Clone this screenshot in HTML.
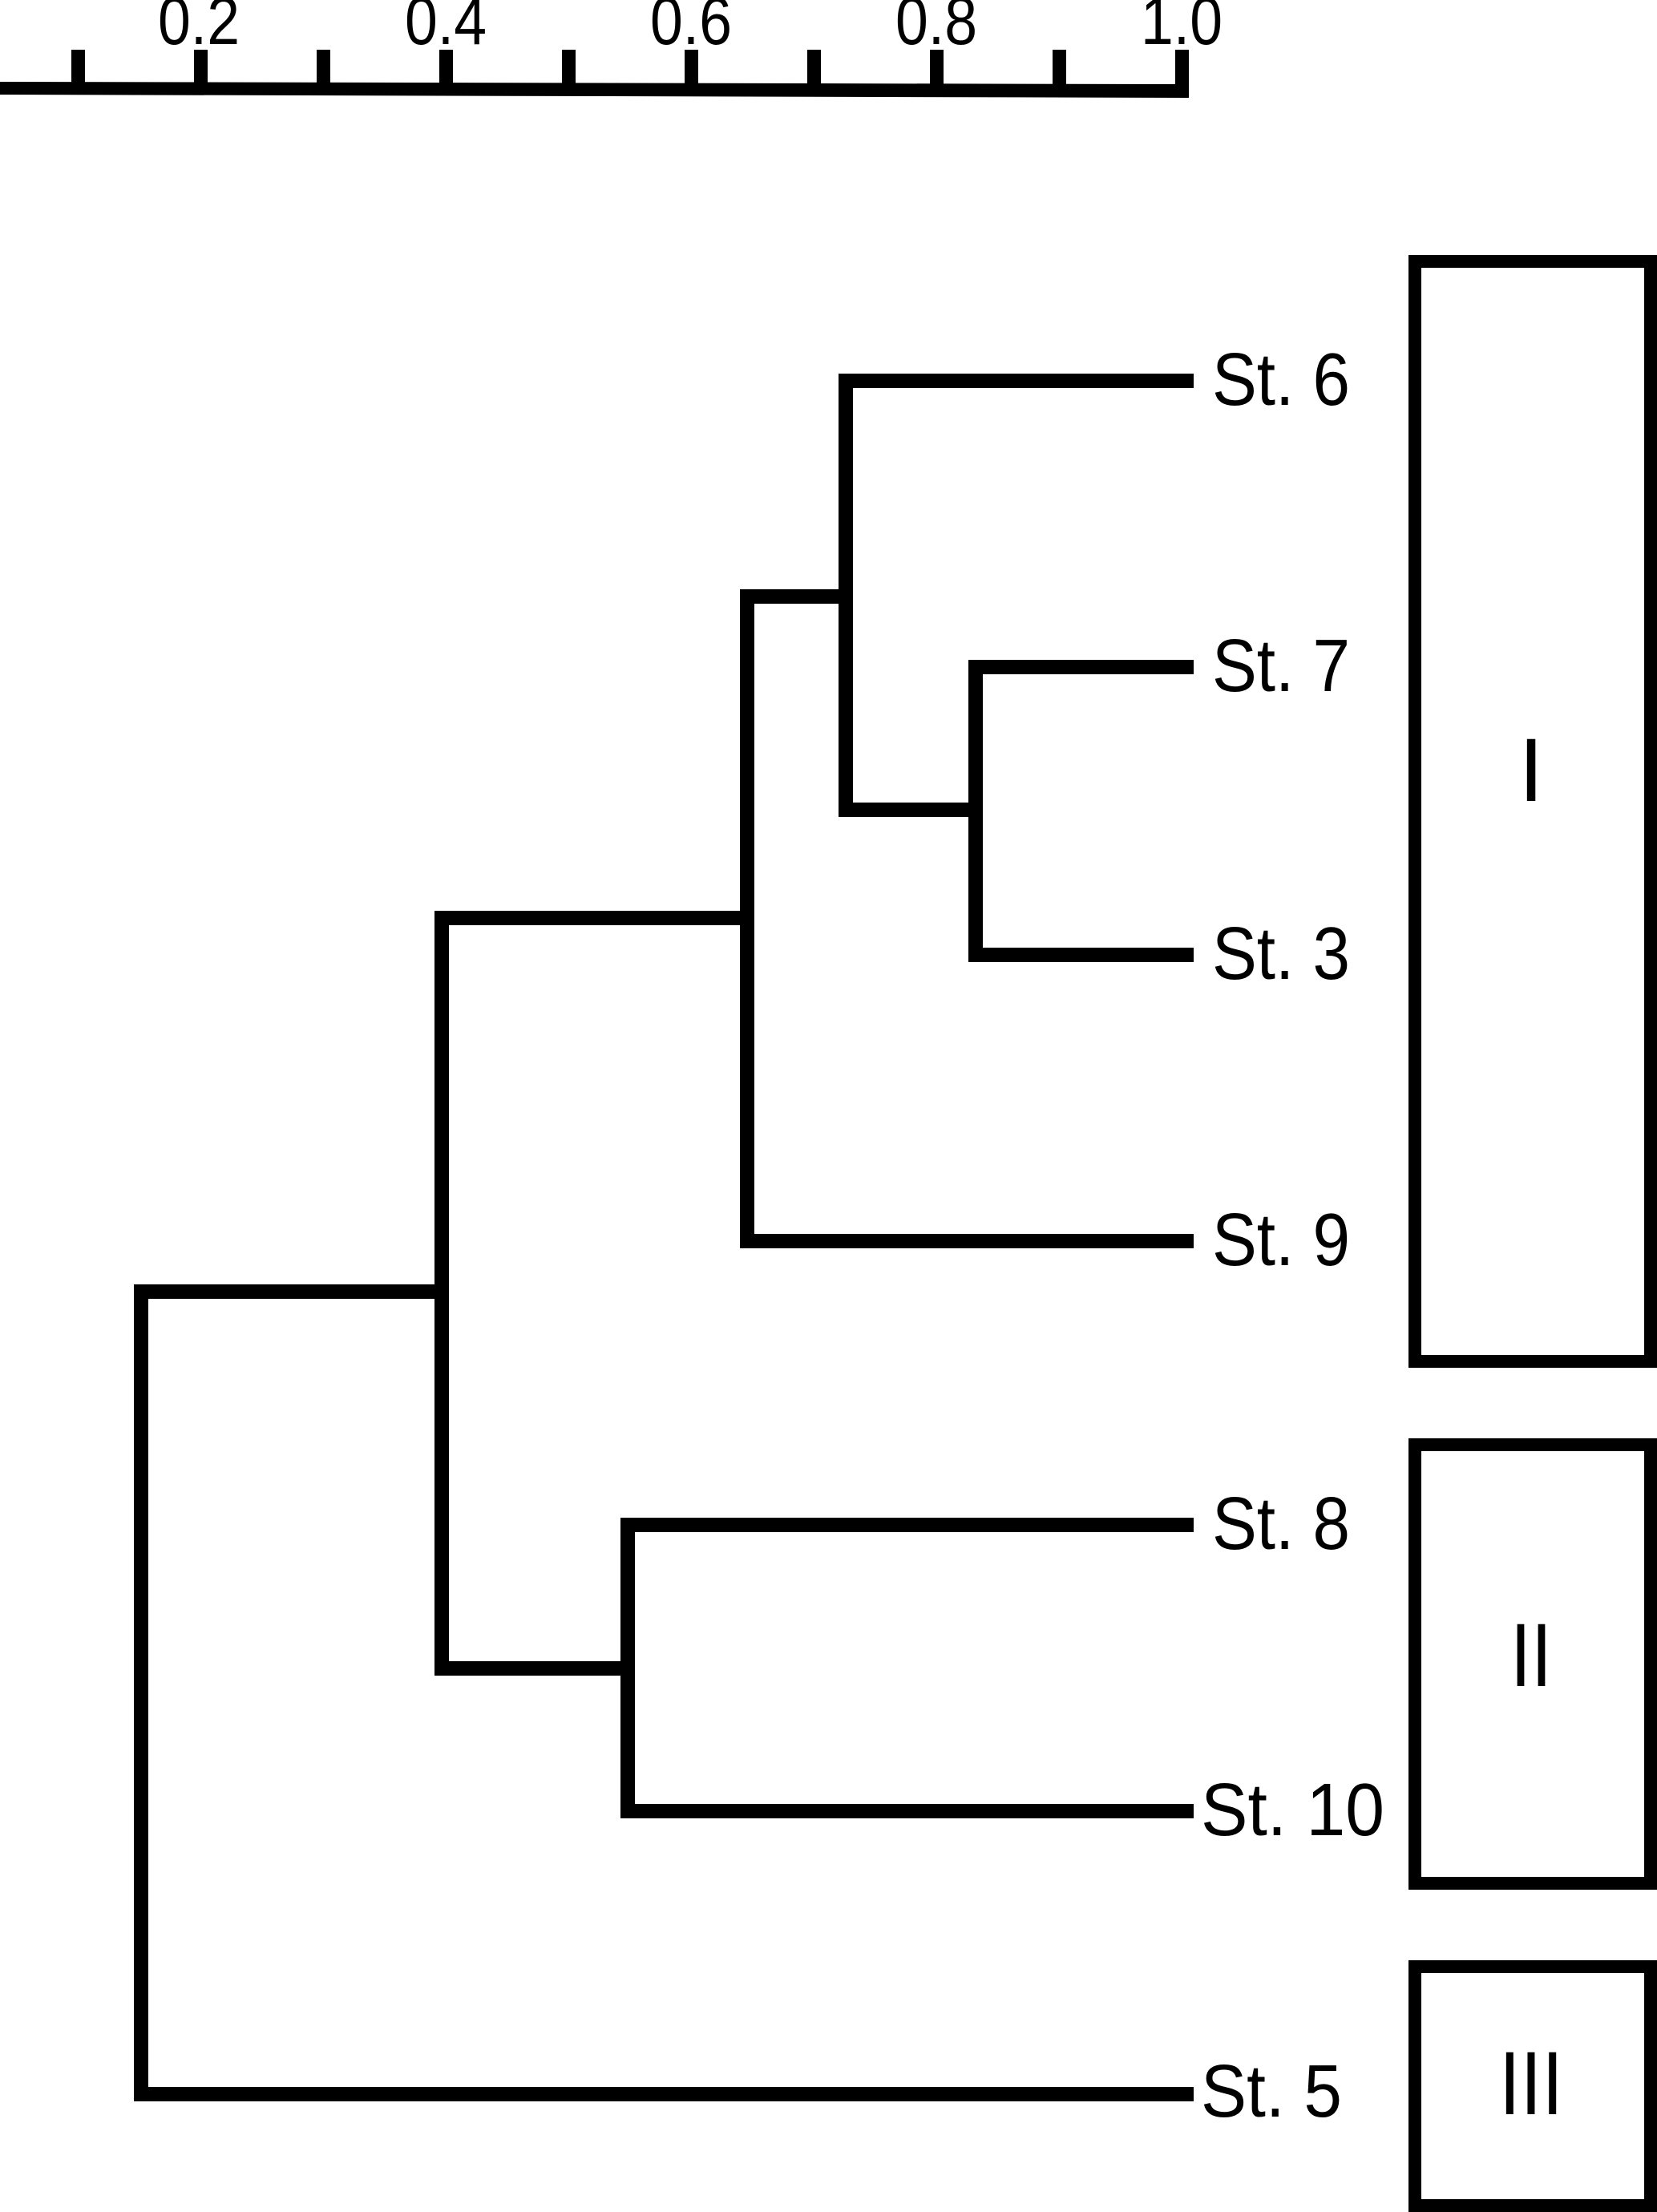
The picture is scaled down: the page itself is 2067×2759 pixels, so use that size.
<!DOCTYPE html>
<html><head><meta charset="utf-8"><style>html,body{margin:0;padding:0;background:#fff}svg{display:block}</style></head>
<body>
<svg width="2067" height="2759" viewBox="0 0 2067 2759" xmlns="http://www.w3.org/2000/svg" font-family="Liberation Sans, sans-serif">
<g fill="#000">
<polygon points="0,102 1483,105 1483,122 0,118"/>
<rect x="89" y="62" width="17" height="48"/>
<rect x="242" y="62" width="17" height="48"/>
<rect x="395" y="62" width="17" height="48"/>
<rect x="548" y="62" width="17" height="48"/>
<rect x="701" y="62" width="17" height="48"/>
<rect x="854" y="62" width="17" height="48"/>
<rect x="1007" y="62" width="17" height="48"/>
<rect x="1160" y="62" width="17" height="48"/>
<rect x="1313" y="62" width="17" height="48"/>
<rect x="1466" y="62" width="17" height="52"/>
</g>
<g font-size="84" text-anchor="middle">
<text x="248" y="55" textLength="102" lengthAdjust="spacingAndGlyphs">0.2</text>
<text x="556" y="55" textLength="102" lengthAdjust="spacingAndGlyphs">0.4</text>
<text x="862" y="55" textLength="102" lengthAdjust="spacingAndGlyphs">0.6</text>
<text x="1168" y="55" textLength="102" lengthAdjust="spacingAndGlyphs">0.8</text>
<text x="1474" y="55" textLength="102" lengthAdjust="spacingAndGlyphs">1.0</text>
</g>
<g stroke="#000" stroke-width="18" fill="none" stroke-linecap="square">
<path d="M1480,475 H1055 V1010 H1217"/>
<path d="M1480,832 H1217 V1191 H1480"/>
<path d="M1055,744 H932 V1548 H1480"/>
<path d="M932,1145 H551 V2081 H783"/>
<path d="M1480,1902 H783 V2259 H1480"/>
<path d="M551,1611 H176 V2612 H1480"/>
</g>
<g font-size="93">
<text x="1512" y="505" textLength="172" lengthAdjust="spacingAndGlyphs">St. 6</text>
<text x="1512" y="862" textLength="172" lengthAdjust="spacingAndGlyphs">St. 7</text>
<text x="1512" y="1221" textLength="172" lengthAdjust="spacingAndGlyphs">St. 3</text>
<text x="1512" y="1578" textLength="172" lengthAdjust="spacingAndGlyphs">St. 9</text>
<text x="1512" y="1932" textLength="172" lengthAdjust="spacingAndGlyphs">St. 8</text>
<text x="1498" y="2289" textLength="229" lengthAdjust="spacingAndGlyphs">St. 10</text>
<text x="1498" y="2640" textLength="176" lengthAdjust="spacingAndGlyphs">St. 5</text>
</g>
<g stroke="#000" stroke-width="16" fill="none">
<rect x="1765" y="326" width="294" height="1372"/>
<rect x="1765" y="1802" width="294" height="547"/>
<rect x="1765" y="2453" width="294" height="298"/>
</g>
<g font-size="112" text-anchor="middle">
<text x="1910" y="999">I</text>
<text x="1910" y="2103" textLength="52" lengthAdjust="spacingAndGlyphs">II</text>
<text x="1910" y="2637" textLength="80" lengthAdjust="spacingAndGlyphs">III</text>
</g>
</svg>
</body></html>
